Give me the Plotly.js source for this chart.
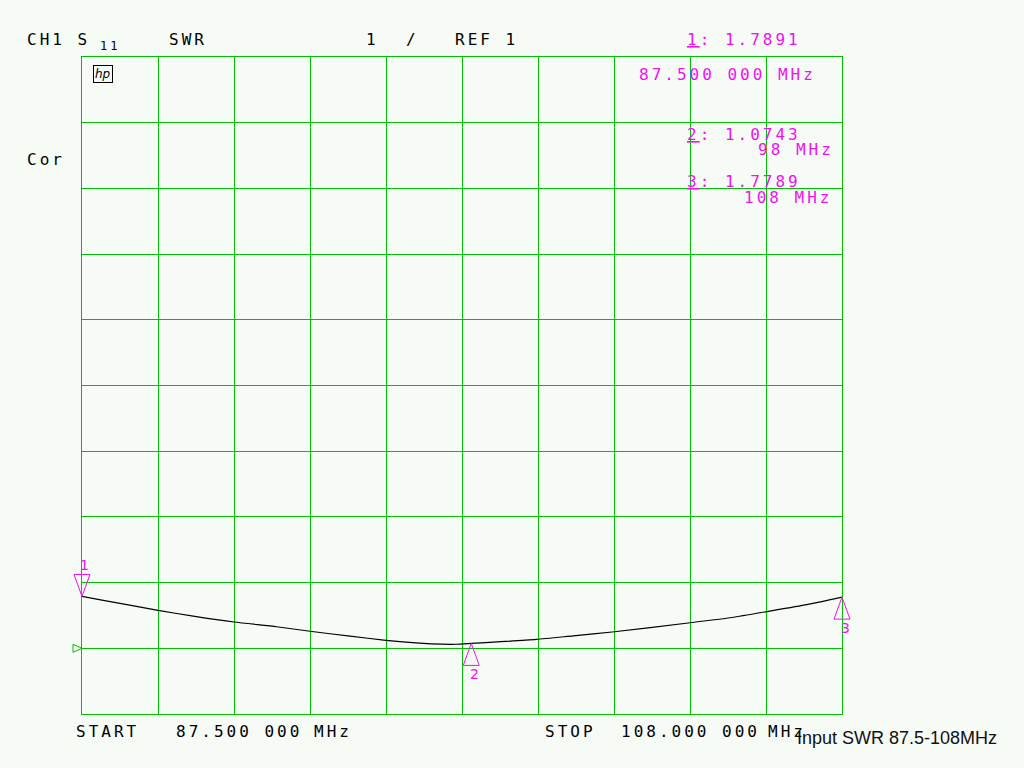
<!DOCTYPE html>
<html>
<head>
<meta charset="utf-8">
<script src="https://cdn.plot.ly/plotly-3.0.1.min.js"></script>
<style>
html, body { margin: 0; padding: 0; background: #f6fbf6; }
#chart { width: 1024px; height: 768px; }
text.annotation-text[style*="DejaVu Sans Mono"] { letter-spacing: 3px; }
</style>
</head>
<body>
<div id="chart"></div>
<script>
// ---- data ----
const freqMHz = [87.5, 88.0, 89.55, 90.5, 91.6, 92.75, 93.65, 94.73, 95.7, 96.6, 97.2, 97.6, 98.0, 98.5, 99.75, 100.75, 101.8, 103.85, 104.98, 105.9, 107.05, 108.0];
const swr     = [1.789, 1.738, 1.578, 1.490, 1.400, 1.328, 1.259, 1.185, 1.122, 1.080, 1.063, 1.062, 1.074, 1.090, 1.135, 1.190, 1.248, 1.385, 1.465, 1.553, 1.665, 1.779];

const markerNames    = ['1', '2', '3'];
const markerFreqMHz  = [87.5, 98, 108];
const markerSwr      = [1.7891, 1.0743, 1.7789];
const markerReadout  = ['1.7891', '1.0743', '1.7789'];
const markerFreqText = ['87.500 000 MHz', '98 MHz', '108 MHz'];

const xRange = [87.5, 108];
const yRange = [0, 10];
const refValue = 1;
const scalePerDiv = 1;

// ---- styles ----
const GREEN = '#00c000';
const MAG = '#f010f0';
const BG = '#f6fbf6';
const MONO = 'DejaVu Sans Mono, monospace';

// plot area in pixels (for placing instrument text)
const L = 82, T = 57, W = 760, H = 657;
function pxAnn(text, px, py, color, size, extra) {
  return Object.assign({
    xref: 'paper', yref: 'paper',
    x: (px - L) / W, y: (T + H - py) / H,
    xanchor: 'left', yanchor: 'middle', align: 'left',
    text: text, showarrow: false, borderpad: 0,
    font: { family: MONO, size: size || 16, color: color || '#000' }
  }, extra || {});
}
const xFrac = f => (f - xRange[0]) / (xRange[1] - xRange[0]);

const annotations = [
  pxAnn('CH1 S', 26, 40),
  pxAnn('11', 99, 46, '#000', 12),
  pxAnn('SWR', 168, 40),
  pxAnn(String(scalePerDiv), 365, 40),
  pxAnn('/', 405, 40),
  pxAnn('REF ' + refValue, 454, 40),
  pxAnn('Cor', 26, 159),
  pxAnn('START', 75, 731),
  pxAnn(xRange[0].toFixed(3) + ' 000', 175, 731),
  pxAnn('MHz', 313, 731),
  pxAnn('STOP', 544, 731),
  pxAnn(xRange[1].toFixed(3) + ' 000', 620, 731),
  pxAnn('MHz', 767, 731),
  // hp logo
  {
    xref: 'paper', yref: 'paper', x: (103 - L) / W, y: (T + H - 74) / H,
    xanchor: 'center', yanchor: 'middle', showarrow: false,
    text: '<i>hp</i>', font: { family: 'DejaVu Sans', size: 12, color: '#000' },
    bordercolor: '#000', borderwidth: 1, borderpad: 1
  }
];

// marker readouts
const readY = [40, 134, 181];
const freqPos = [[638, 74], [757, 149], [743, 197]];
markerNames.forEach((n, i) => {
  annotations.push(pxAnn('<u>' + n + '</u>: ' + markerReadout[i], 686, readY[i], MAG));
  annotations.push(pxAnn(markerFreqText[i], freqPos[i][0], freqPos[i][1], MAG));
  // marker number next to the triangle
  annotations.push({
    xref: 'paper', yref: 'y', x: xFrac(markerFreqMHz[i]), y: markerSwr[i],
    xanchor: 'center', yanchor: 'middle', showarrow: false,
    xshift: i === 0 ? 2 : 3, yshift: i === 0 ? 31 : -31,
    text: n, font: { family: 'DejaVu Sans', size: 14, color: MAG }
  });
});

const shapes = markerNames.map((n, i) => ({
  type: 'path', xref: 'paper', yref: 'y',
  xsizemode: 'pixel', ysizemode: 'pixel',
  xanchor: xFrac(markerFreqMHz[i]), yanchor: markerSwr[i],
  path: i === 0 ? 'M -8,22 L 8,22 L 0,0 Z' : 'M -8,-22 L 8,-22 L 0,0 Z',
  line: { color: MAG, width: 1 }, fillcolor: 'rgba(0,0,0,0)', layer: 'above'
}));
// reference position marker
shapes.push({
  type: 'path', xref: 'paper', yref: 'y',
  xsizemode: 'pixel', ysizemode: 'pixel',
  xanchor: 0, yanchor: refValue,
  path: 'M -9,4 L -9,-4 L 0,0 Z',
  line: { color: GREEN, width: 1 }, fillcolor: 'rgba(0,0,0,0)', layer: 'above'
});

const axisCommon = {
  showgrid: true, gridcolor: GREEN, gridwidth: 1,
  showticklabels: false, ticks: '', zeroline: false,
  showline: true, mirror: true, linecolor: GREEN, linewidth: 1,
  fixedrange: true
};

const trace = {
  type: 'scatter', mode: 'lines',
  x: freqMHz, y: swr,
  line: { color: '#000', width: 1.2, shape: 'spline', smoothing: 0.6 },
  hoverinfo: 'skip'
};

const layout = {
  width: 1024, height: 768,
  margin: { l: L, r: 1024 - L - W, t: T, b: 768 - T - H, pad: 0 },
  paper_bgcolor: BG, plot_bgcolor: BG,
  showlegend: false,
  title: {
    text: 'Input SWR 87.5-108MHz',
    font: { family: 'Liberation Sans, Arial, sans-serif', size: 18, color: '#111' },
    xref: 'container', yref: 'container',
    x: 797 / 1024, xanchor: 'left',
    y: 1 - 738 / 768, yanchor: 'middle'
  },
  xaxis: Object.assign({ range: xRange, tick0: xRange[0], dtick: (xRange[1] - xRange[0]) / 10 }, axisCommon),
  yaxis: Object.assign({ range: yRange, tick0: 0, dtick: scalePerDiv }, axisCommon),
  annotations: annotations,
  shapes: shapes
};

Plotly.newPlot('chart', [trace], layout, { displayModeBar: false, staticPlot: true });
</script>
</body>
</html>
